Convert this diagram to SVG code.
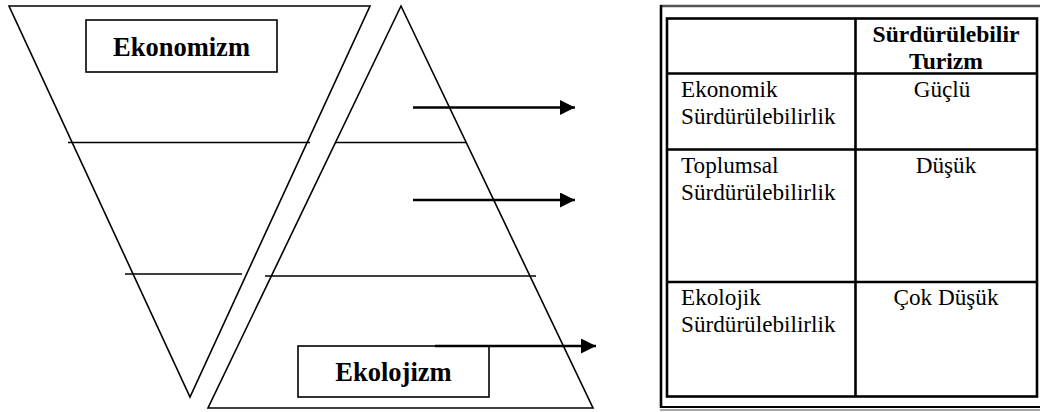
<svg xmlns="http://www.w3.org/2000/svg" width="1040" height="412" viewBox="0 0 1040 412">
<style>
.ln{stroke:#000;stroke-width:1.6;fill:none}
.bx{stroke:#000;stroke-width:1.6;fill:#fff}
.ar{stroke:#000;stroke-width:2.6;fill:none}
.tb{stroke:#000;stroke-width:2.6;fill:none}
.lbl{font-family:"Liberation Serif","Times New Roman",serif;font-weight:bold;font-size:26.5px;fill:#000}
.cell{font-family:"Liberation Serif","Times New Roman",serif;font-size:23.2px;fill:#000}
.hd{font-family:"Liberation Serif","Times New Roman",serif;font-weight:bold;font-size:23.6px;fill:#000}
</style>
<defs>
<marker id="ah" markerWidth="16" markerHeight="16" refX="15" refY="7.5" orient="auto" markerUnits="userSpaceOnUse">
<path d="M0,0 L15,7.5 L0,15 Z" fill="#000"/>
</marker>
</defs>
<rect width="1040" height="412" fill="#fff"/>
<g id="economism">
<polygon class="ln" points="9,6 370,6 190,397"/>
<line class="ln" x1="68" y1="142.5" x2="310" y2="142.5"/>
<line class="ln" x1="125" y1="274" x2="242" y2="274"/>
<rect class="bx" x="86" y="20" width="191" height="52"/>
<text class="lbl" x="181.5" y="56" text-anchor="middle">Ekonomizm</text>
</g>
<g id="ecologism">
<polygon class="ln" points="401,6 593,408 208,408"/>
<line class="ln" x1="335" y1="142.5" x2="466" y2="142.5"/>
<line class="ln" x1="265" y1="276" x2="536" y2="276"/>
<rect class="bx" x="298" y="346" width="191" height="51"/>
<text class="lbl" x="393.5" y="381" text-anchor="middle">Ekolojizm</text>
</g>
<g id="connectors">
<line class="ar" x1="413" y1="107.5" x2="575" y2="107.5" marker-end="url(#ah)"/>
<line class="ar" x1="413" y1="200" x2="575" y2="200" marker-end="url(#ah)"/>
<line class="ar" x1="435" y1="346" x2="596" y2="346" marker-end="url(#ah)"/>
</g>
<g id="table">
<line x1="660" y1="6" x2="1040" y2="6" stroke="#555" stroke-width="2.6"/>
<line x1="661" y1="5" x2="661" y2="408" stroke="#000" stroke-width="2.6"/>
<line x1="660" y1="407" x2="1040" y2="407" stroke="#000" stroke-width="2.2"/>
<line x1="660" y1="410" x2="1040" y2="410" stroke="#888" stroke-width="1.4"/>
<rect class="tb" x="667" y="18.5" width="370" height="378"/>
<line class="tb" x1="855.5" y1="18.5" x2="855.5" y2="396.5"/>
<line class="tb" x1="667" y1="73.5" x2="1037" y2="73.5"/>
<line class="tb" x1="667" y1="149.5" x2="1037" y2="149.5"/>
<line class="tb" x1="667" y1="282" x2="1037" y2="282"/>
<text class="hd" x="946" y="41.5" text-anchor="middle">Sürdürülebilir</text>
<text class="hd" x="946" y="69" text-anchor="middle">Turizm</text>
<text class="cell" x="681" y="97">Ekonomik</text>
<text class="cell" x="681" y="124">Sürdürülebilirlik</text>
<text class="cell" x="942" y="97" text-anchor="middle">Güçlü</text>
<text class="cell" x="681" y="173">Toplumsal</text>
<text class="cell" x="681" y="200">Sürdürülebilirlik</text>
<text class="cell" x="946" y="173" text-anchor="middle">Düşük</text>
<text class="cell" x="681" y="305">Ekolojik</text>
<text class="cell" x="681" y="332">Sürdürülebilirlik</text>
<text class="cell" x="946" y="305" text-anchor="middle">Çok Düşük</text>
</g>
</svg>
